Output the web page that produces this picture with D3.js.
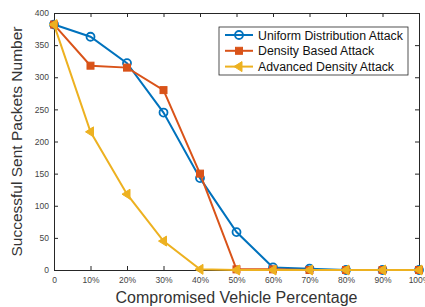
<!DOCTYPE html>
<html>
<head>
<meta charset="utf-8">
<script src="https://cdn.jsdelivr.net/npm/d3@7"></script>
<style>
  body { margin: 0; background: #fff; }
  svg { font-family: "Liberation Sans", Arial, sans-serif; }
</style>
</head>
<body>
<div class="chart"></div>
<script>
const width = 425
const height = 307

const percents = [0, 10, 20, 30, 40, 50, 60, 70, 80, 90, 100];
const xTickLabels = ["0", "10%", "20%", "30%", "40%", "50%", "60%", "70%", "80%", "90%", "100%"];
const yTicks = [0, 50, 100, 150, 200, 250, 300, 350, 400];

const uniform = [382, 363, 322, 245, 143, 59, 4, 2, 0, 0, 0];
const densityBased = [382, 318, 315, 280, 150, 1, 1, 0, 0, 0, 0];
const advanced = [382, 215, 118, 45, 1, 0, 0, 0, 0, 0, 0];

const seriesNames = ["Uniform Distribution Attack", "Density Based Attack", "Advanced Density Attack"];
const seriesColors = ["#0072BD", "#D95319", "#EDB120"];

const margin = {top: 13, right: 6, bottom: 37, left: 54};

const svg = d3.create("svg")
  .attr("width", width)
  .attr("height", height);

const x = d3.scaleLinear().domain([0, 100]).range([margin.left, width - margin.right]);
const y = d3.scaleLinear().domain([0, 400]).range([height - margin.bottom, margin.top]);

const axisColor = "#262626";

// bottom axis with ticks inside
svg.append("g")
  .attr("transform", `translate(0,${y(0)})`)
  .call(d3.axisBottom(x).tickValues(percents).tickSize(-4).tickPadding(7)
    .tickFormat((d, i) => xTickLabels[i]))
  .call(g => g.select(".domain").attr("stroke", axisColor))
  .call(g => g.selectAll(".tick line").attr("stroke", axisColor))
  .call(g => g.selectAll("text").attr("fill", "#444").style("font-size", "8.5px"));

// top ticks
svg.append("g")
  .attr("transform", `translate(0,${y(400)})`)
  .call(d3.axisTop(x).tickValues(percents).tickSize(-4).tickFormat(""))
  .call(g => g.select(".domain").attr("stroke", axisColor))
  .call(g => g.selectAll(".tick line").attr("stroke", axisColor));

svg.append("g")
  .attr("transform", `translate(${x(0)},0)`)
  .call(d3.axisLeft(y).tickValues(yTicks).tickSize(-4).tickPadding(5))
  .call(g => g.select(".domain").attr("stroke", axisColor))
  .call(g => g.selectAll(".tick line").attr("stroke", axisColor))
  .call(g => g.selectAll("text").attr("fill", "#444").style("font-size", "8.5px"));

svg.append("g")
  .attr("transform", `translate(${x(100)},0)`)
  .call(d3.axisRight(y).tickValues(yTicks).tickSize(-4).tickFormat(""))
  .call(g => g.select(".domain").attr("stroke", axisColor))
  .call(g => g.selectAll(".tick line").attr("stroke", axisColor));

const line = d3.line()
  .x((d, i) => x(percents[i]))
  .y(d => y(d));

const allSeries = [uniform, densityBased, advanced];

function drawMarker(g, k, cx, cy) {
  const c = seriesColors[k];
  if (k === 0) {
    g.append("circle").attr("cx", cx).attr("cy", cy).attr("r", 4)
      .attr("fill", "none").attr("stroke", c).attr("stroke-width", 1.8);
  } else if (k === 1) {
    g.append("rect").attr("x", cx - 3.5).attr("y", cy - 3.5).attr("width", 7).attr("height", 7)
      .attr("fill", c).attr("stroke", c);
  } else {
    g.append("path")
      .attr("d", `M${cx - 5},${cy} L${cx + 3},${cy - 5} L${cx + 3},${cy + 5} Z`)
      .attr("fill", c).attr("stroke", c).attr("stroke-width", 1);
  }
}

allSeries.forEach((vals, k) => {
  const g = svg.append("g");
  g.append("path")
    .attr("d", line(vals))
    .attr("fill", "none")
    .attr("stroke", seriesColors[k])
    .attr("stroke-width", 2);
  vals.forEach((v, i) => drawMarker(g, k, x(percents[i]), y(v)));
});

// legend
const lg = svg.append("g").attr("transform", "translate(219,27)");
lg.append("rect").attr("width", 189).attr("height", 48)
  .attr("fill", "white").attr("stroke", "#262626").attr("stroke-width", 0.8);
seriesNames.forEach((name, k) => {
  const ry = 8 + k * 15.8;
  lg.append("line").attr("x1", 6).attr("x2", 34).attr("y1", ry).attr("y2", ry)
    .attr("stroke", seriesColors[k]).attr("stroke-width", 2);
  drawMarker(lg, k, 20, ry);
  lg.append("text").attr("x", 39).attr("y", ry + 4.5)
    .style("font-size", "12.3px").attr("fill", "#111").text(name);
});

svg.append("text")
  .attr("transform", `translate(22,${(y(0) + y(400)) / 2}) rotate(-90)`)
  .attr("text-anchor", "middle")
  .style("font-size", "15.5px")
  .attr("fill", "#333")
  .text("Successful Sent Packets Number");

svg.append("text")
  .attr("x", (x(0) + x(100)) / 2)
  .attr("y", 303)
  .attr("text-anchor", "middle")
  .style("font-size", "16px")
  .attr("fill", "#333")
  .text("Compromised Vehicle Percentage");

document.querySelector(".chart").append(svg.node());
</script>
</body>
</html>
